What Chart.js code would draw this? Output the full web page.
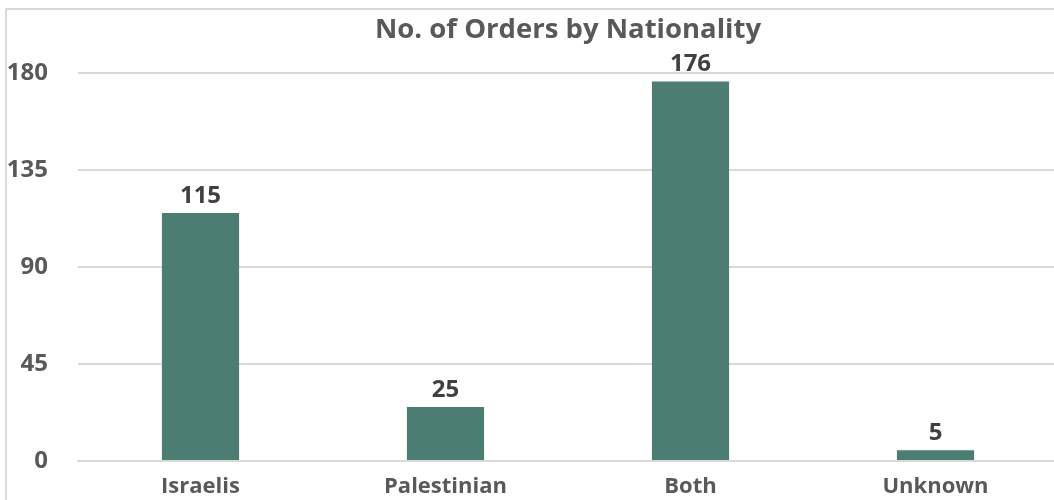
<!DOCTYPE html>
<html>
<head>
<meta charset="utf-8">
<script src="https://cdn.jsdelivr.net/npm/chart.js@4.4.0/dist/chart.umd.min.js"></script>
<style>
  html, body { margin: 0; padding: 0; background: #fff; overflow: hidden; }
  #wrap { position: relative; width: 1058px; height: 500px; overflow: hidden; }
  #frame { position: absolute; left: 5px; top: 8px; right: -10px; bottom: -10px;
           border-top: 2px solid #d9d9d9; border-left: 2px solid #d9d9d9; pointer-events: none; }
</style>
</head>
<body>
<div id="wrap">
  <!-- canvas a bit taller than the window: the x axis box is 2*padding + label, the extra rows get clipped -->
  <canvas id="chart0" width="1058" height="513"></canvas>
  <div id="frame"></div>
</div>
<script>
// data
var categories = [ 'Israelis', 'Palestinian', 'Both', 'Unknown' ];
var orders = [ 115, 25, 176, 5 ];
var yTicks = [ 0, 45, 90, 135, 180 ];

var FONT = "'Open Sans', sans-serif";

// draws the value above each bar
var barValues = {
    id: 'barValues',
    afterDatasetsDraw: function(chart) {
        var ctx = chart.ctx;
        var meta = chart.getDatasetMeta(0);
        ctx.save();
        ctx.font = 'bold 24px ' + FONT;
        ctx.fillStyle = '#404040';
        ctx.textAlign = 'center';
        ctx.textBaseline = 'bottom';
        meta.data.forEach(function(bar, i) {
            ctx.fillText(chart.data.datasets[0].data[i], bar.x, bar.y - 5);
        });
        ctx.restore();
    }
};

var config = {
    type: 'bar',
    data: {
        labels: categories,
        datasets: [{
            label: 'Orders',
            data: orders,
            backgroundColor: '#4b7d73',
            borderWidth: 0,
            barPercentage: 0.315,
            categoryPercentage: 1
        }]
    },
    options: {
        responsive: false,
        animation: false,
        layout: { padding: 0 },
        plugins: {
            legend: { display: false },
            tooltip: { enabled: false },
            title: {
                display: true,
                text: 'No. of Orders by Nationality',
                fullSize: false,
                color: '#595959',
                font: { family: FONT, size: 27.5, weight: 'bold' },
                padding: { top: 14, bottom: 26 }
            }
        },
        scales: {
            x: {
                grid: { display: false, drawTicks: false },
                border: { display: true, color: '#d9d9d9', width: 2 },
                ticks: {
                    color: '#595959',
                    padding: 15,
                    maxRotation: 0,
                    font: { family: FONT, size: 22, weight: 'bold', lineHeight: 1 }
                }
            },
            y: {
                min: 0,
                max: 180,
                afterBuildTicks: function(scale) {
                    scale.ticks = yTicks.map(function(v) { return { value: v }; });
                },
                grid: { color: '#d9d9d9', lineWidth: 2, drawTicks: false },
                border: { display: false },
                ticks: {
                    color: '#595959',
                    padding: 30,
                    font: { family: FONT, size: 24, weight: 'bold' }
                },
                afterFit: function(scale) { scale.width = 78; }
            }
        }
    },
    plugins: [ barValues ]
};

var chart = new Chart(document.getElementById('chart0'), config);
</script>
</body>
</html>
